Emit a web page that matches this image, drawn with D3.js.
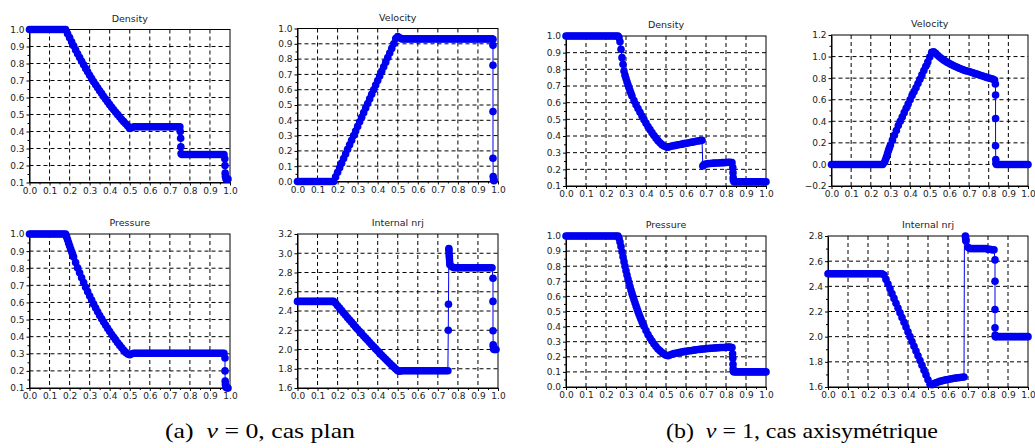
<!DOCTYPE html>
<html><head><meta charset="utf-8">
<script src="https://cdn.jsdelivr.net/npm/d3@7"></script>
<style>body{margin:0;background:#fff}svg{display:block}</style>
</head><body>
<svg id="c" width="1035" height="448"></svg>
<script>
// ---------- DATA ----------
const xGrid = [0,0.01,0.02,0.03,0.04,0.05,0.06,0.07,0.08,0.09,0.1,0.11,0.12,0.13,0.14,0.15,0.16,0.17,0.18,0.19,
0.2,0.21,0.22,0.23,0.24,0.25,0.26,0.27,0.28,0.29,0.3,0.31,0.32,0.33,0.34,0.35,0.36,0.37,0.38,0.39,
0.4,0.41,0.42,0.43,0.44,0.45,0.46,0.47,0.48,0.49,0.5,0.51,0.52,0.53,0.54,0.55,0.56,0.57,0.58,0.59,
0.6,0.61,0.62,0.63,0.64,0.65,0.66,0.67,0.68,0.69,0.7,0.71,0.72,0.73,0.74,0.75,0.76,0.77,0.78,0.79,
0.8,0.81,0.82,0.83,0.84,0.85,0.86,0.87,0.88,0.89,0.9,0.91,0.92,0.93,0.94,0.95,0.96,0.97,0.98,0.99,1];

const xTicks = [0,0.1,0.2,0.3,0.4,0.5,0.6,0.7,0.8,0.9,1.0];
const yTicksDensity = [0.1,0.2,0.3,0.4,0.5,0.6,0.7,0.8,0.9,1.0];
const yTicksVelA = [0,0.1,0.2,0.3,0.4,0.5,0.6,0.7,0.8,0.9,1.0];
const yTicksPresA = [0.1,0.2,0.3,0.4,0.5,0.6,0.7,0.8,0.9,1.0];
const yTicksEnerA = [1.6,1.8,2.0,2.2,2.4,2.6,2.8,3.0,3.2];
const yTicksVelB = [-0.2,0,0.2,0.4,0.6,0.8,1.0,1.2];
const yTicksPresB = [0,0.1,0.2,0.3,0.4,0.5,0.6,0.7,0.8,0.9,1.0];
const yTicksEnerB = [1.6,1.8,2.0,2.2,2.4,2.6,2.8];

const titles = ["Density","Velocity","Pressure","Internal nrj"];

// (a) nu = 0 : values on xGrid (0 .. 0.97), plus extra points read at the discontinuities
const densA = [1,1,1,1,1,1,1,1,1,1,1,1,1,1,1,1,1,1,1,
0.975,0.952,0.928,0.904,0.880,0.857,0.835,0.813,0.792,0.771,0.751,0.731,0.712,0.693,0.675,0.657,0.640,0.623,0.606,0.590,0.574,
0.558,0.543,0.528,0.513,0.499,0.485,0.471,0.458,0.445,0.432,0.418,0.422,
0.428,0.428,0.428,0.428,0.428,0.428,0.428,0.428,0.428,0.428,0.428,0.428,0.428,0.428,0.428,0.428,0.428,0.428,0.428,0.428,0.428,0.428,0.428,0.428,
0.265,0.265,0.265,0.265,0.265,0.265,0.265,0.265,0.265,0.265,0.265,0.265,0.265,0.265,0.265,0.265,0.265,0.265,0.265,0.265,0.265,0.265];
const densAExtra = [[0.752,0.40],[0.754,0.36],[0.755,0.31],[0.756,0.27],
[0.974,0.24],[0.975,0.20],[0.976,0.155],[0.977,0.135],[0.98,0.12],[0.985,0.12],[0.99,0.12]];

const velA = [0,0,0,0,0,0,0,0,0,0,0,0,0,0,0,0,0,0,0,
0.03,0.06,0.09,0.12,0.15,0.18,0.21,0.24,0.27,0.30,0.33,0.36,0.39,0.42,0.45,0.48,0.51,0.54,0.57,0.60,0.63,
0.66,0.69,0.72,0.75,0.78,0.81,0.84,0.87,0.90,0.935,0.948,0.94,
0.932,0.932,0.932,0.932,0.932,0.932,0.932,0.932,0.932,0.932,0.932,0.932,0.932,0.932,0.932,0.932,0.932,0.932,0.932,0.932,0.932,0.932,0.932,
0.932,0.932,0.932,0.932,0.932,0.932,0.932,0.932,0.932,0.932,0.932,0.932,0.932,0.932,0.932,0.932,0.932,0.932,0.932,0.932,0.932,0.932,0.932];
const velAExtra = [[0.975,0.93],[0.975,0.89],[0.975,0.76],[0.975,0.457],[0.975,0.152],[0.976,0.033],[0.978,0.012],[0.98,0.005]];

const presA = [1,1,1,1,1,1,1,1,1,1,1,1,1,1,1,1,1,1,1,
0.966,0.931,0.897,0.865,0.833,0.802,0.773,0.744,0.716,0.689,0.663,0.638,0.614,0.590,0.567,0.545,0.524,0.504,0.485,0.466,0.448,
0.430,0.413,0.396,0.380,0.364,0.349,0.335,0.321,0.308,0.298,0.294,0.300,
0.303,0.303,0.303,0.303,0.303,0.303,0.303,0.303,0.303,0.303,0.303,0.303,0.303,0.303,0.303,0.303,0.303,0.303,0.303,0.303,0.303,0.303,0.303,
0.303,0.303,0.303,0.303,0.303,0.303,0.303,0.303,0.303,0.303,0.303,0.303,0.303,0.303,0.303,0.303,0.303,0.303,0.303,0.303,0.303,0.303,0.303];
const presAExtra = [[0.185,0.983],[0.195,0.948],[0.205,0.914],[0.215,0.881],
[0.975,0.275],[0.975,0.2],[0.976,0.14],[0.977,0.12],[0.98,0.105],[0.985,0.1],[0.99,0.1]];

const enerA = [2.5,2.5,2.5,2.5,2.5,2.5,2.5,2.5,2.5,2.5,2.5,2.5,2.5,2.5,2.5,2.5,2.5,2.5,2.5,
2.48,2.455,2.43,2.405,2.38,2.355,2.33,2.306,2.282,2.258,2.234,2.21,2.187,2.164,2.141,2.118,2.095,2.072,2.05,2.028,2.006,
1.984,1.962,1.941,1.92,1.899,1.878,1.857,1.837,1.817,1.797,1.778,1.775,
1.78,1.78,1.78,1.78,1.78,1.78,1.78,1.78,1.78,1.78,1.78,1.78,1.78,1.78,1.78,1.78,1.78,1.78,1.78,1.78,1.78,1.78,1.78,1.78,
2.88,2.86,2.85,2.85,2.85,2.85,2.85,2.85,2.85,2.85,2.85,2.85,2.85,2.85,2.85,2.85,2.85,2.85,2.85,2.85,2.85,2.85];
const enerAExtra = [[0.752,2.2],[0.753,2.47],[0.755,3.05],[0.755,3.03],[0.756,3.0],[0.757,2.97],[0.758,2.94],[0.759,2.91],
[0.975,2.74],[0.975,2.5],[0.975,2.195],[0.976,2.05],[0.977,2.03],[0.978,2.01],[0.98,2.0],[0.985,2.0],[0.99,2.0]];

// (b) nu = 1 : values on xGrid (0 .. 1.0), plus extra points read in the steep parts
const densB = [1,1,1,1,1,1,1,1,1,1,1,1,1,1,1,1,1,1,1,1,1,1,1,1,1,1,1,
0.965,0.87,0.79,0.745,0.707,0.672,0.64,0.612,0.588,0.565,0.542,0.52,0.498,0.477,0.457,0.438,0.42,0.403,0.387,0.372,0.359,0.348,0.34,0.335,0.333,
0.337,0.34,0.342,0.344,0.347,0.349,0.351,0.354,0.356,0.358,0.361,0.363,0.365,0.368,0.37,0.372,0.374,
0.228,0.232,0.234,0.235,0.236,0.237,0.238,0.238,0.239,0.24,0.24,0.241,0.242,0.242,0.24,
0.125,0.125,0.125,0.125,0.125,0.125,0.125,0.125,0.125,0.125,0.125,0.125,0.125,0.125,0.125,0.125,0.125];
const densBExtra = [[0.265,0.99],[0.275,0.92],[0.285,0.83],[0.295,0.765],[0.305,0.725],[0.315,0.689],[0.325,0.656],
[0.684,0.22],[0.834,0.21],[0.835,0.18],[0.836,0.15],[0.837,0.135]];

const velB = [0,0,0,0,0,0,0,0,0,0,0,0,0,0,0,0,0,0,0,0,0,0,0,0,0,0,0,
0.02,0.07,0.13,0.18,0.225,0.27,0.315,0.36,0.40,0.44,0.48,0.52,0.56,0.60,0.64,0.675,0.71,0.75,0.79,0.83,0.87,0.91,0.95,0.995,1.04,
1.045,1.03,1.012,0.996,0.982,0.969,0.957,0.946,0.935,0.926,0.917,0.908,0.900,0.892,0.884,0.877,0.870,0.866,0.862,
0.855,0.849,0.843,0.837,0.831,0.825,0.819,0.813,0.807,0.801,0.796,0.791,0.783,
0,0,0,0,0,0,0,0,0,0,0,0,0,0,0,0,0];
const velBExtra = [[0.275,0.045],[0.285,0.10],[0.295,0.155],
[0.834,0.745],[0.835,0.643],[0.835,0.426],[0.835,0.173],[0.836,0.046],[0.837,0.012]];

const presB = [1,1,1,1,1,1,1,1,1,1,1,1,1,1,1,1,1,1,1,1,1,1,1,1,1,1,1,
0.96,0.895,0.83,0.77,0.715,0.665,0.62,0.578,0.538,0.50,0.465,0.432,0.402,0.374,0.348,0.325,0.304,0.285,0.268,0.252,0.24,0.228,0.218,0.21,0.207,
0.212,0.217,0.221,0.224,0.227,0.229,0.232,0.234,0.236,0.238,0.24,0.242,0.244,0.246,0.248,0.249,0.251,0.252,0.254,
0.255,0.256,0.257,0.258,0.259,0.26,0.261,0.262,0.262,0.263,0.264,0.264,0.262,
0.1,0.1,0.1,0.1,0.1,0.1,0.1,0.1,0.1,0.1,0.1,0.1,0.1,0.1,0.1,0.1,0.1];
const presBExtra = [[0.265,0.985],[0.275,0.93],[0.285,0.862],[0.295,0.80],[0.305,0.742],[0.315,0.69],[0.325,0.642],
[0.335,0.599],[0.345,0.558],[0.355,0.519],[0.365,0.482],[0.375,0.448],[0.385,0.417],
[0.833,0.22],[0.834,0.19],[0.835,0.15],[0.836,0.12],[0.837,0.105]];

const enerB = [2.5,2.5,2.5,2.5,2.5,2.5,2.5,2.5,2.5,2.5,2.5,2.5,2.5,2.5,2.5,2.5,2.5,2.5,2.5,2.5,2.5,2.5,2.5,2.5,2.5,2.5,2.5,2.5,
2.49,2.455,2.418,2.38,2.342,2.304,2.266,2.228,2.19,2.152,2.114,2.076,2.038,2.0,1.962,1.924,1.886,1.848,1.81,1.772,1.734,1.696,1.658,1.622,
1.618,1.628,1.634,1.64,1.645,1.649,1.653,1.657,1.66,1.663,1.666,1.669,1.672,1.674,1.676,1.678,1.68,
2.76,2.71,2.70,2.70,2.70,2.70,2.70,2.70,2.70,2.70,2.70,2.695,2.695,2.69,2.69,
2.0,2.0,2.0,2.0,2.0,2.0,2.0,2.0,2.0,2.0,2.0,2.0,2.0,2.0,2.0,2.0,2.0];
const enerBExtra = [[0.683,3.3],[0.685,3.0],[0.686,2.85],[0.687,2.8],[0.688,2.785],[0.689,2.77],
[0.835,2.61],[0.835,2.44],[0.835,2.216],[0.835,2.07],[0.836,2.012],[0.837,2.0]];

// captions: [label, math symbol, rest of the math, text]
const captions = [["(a)","ν"," = 0,","cas plan"],["(b)","ν"," = 1,","cas axisymétrique"]];

// ---------- LAYOUT ----------
const panels = [
  {title:titles[0], ys:densA, extra:densAExtra, yTicks:yTicksDensity, box:[29.5,230,29.5,182.5]},
  {title:titles[1], ys:velA,  extra:velAExtra,  yTicks:yTicksVelA,    box:[297.5,498,28.5,181.5]},
  {title:titles[2], ys:presA, extra:presAExtra, yTicks:yTicksPresA,   box:[29.5,230,234,388]},
  {title:titles[3], ys:enerA, extra:enerAExtra, yTicks:yTicksEnerA,   box:[297.5,498,234,388]},
  {title:titles[0], ys:densB, extra:densBExtra, yTicks:yTicksDensity, box:[566,766,36,186]},
  {title:titles[1], ys:velB,  extra:velBExtra,  yTicks:yTicksVelB,    box:[831.5,1028,35,186]},
  {title:titles[2], ys:presB, extra:presBExtra, yTicks:yTicksPresB,   box:[566,766,236,387]},
  {title:titles[3], ys:enerB, extra:enerBExtra, yTicks:yTicksEnerB,   box:[828,1028,236,387]}
];
const captionLayout = [{x:165, w:190}, {x:666, w:272}];

const svg = d3.select('#c');
const fmt = d3.format('.1f');
const BLUE = '#0000f0';
const R = 3.8;

panels.forEach((p, k) => {
  const [x0,x1,y0,y1] = p.box;
  const yd = [p.yTicks[0], p.yTicks[p.yTicks.length-1]];
  const xs = d3.scaleLinear().domain([0,1]).range([x0,x1]);
  const ys = d3.scaleLinear().domain(yd).range([y1,y0]);
  const g = svg.append('g');

  const gx = xTicks.slice(1,-1), gy = p.yTicks.slice(1,-1);
  g.selectAll('line.gx').data(gx).join('line')
    .attr('x1',d=>xs(d)).attr('x2',d=>xs(d)).attr('y1',y0).attr('y2',y1)
    .attr('stroke','#000').attr('stroke-width',1).attr('stroke-dasharray','4,3');
  g.selectAll('line.gy').data(gy).join('line')
    .attr('y1',d=>ys(d)).attr('y2',d=>ys(d)).attr('x1',x0).attr('x2',x1)
    .attr('stroke','#000').attr('stroke-width',1).attr('stroke-dasharray','4,3');

  const mx = d3.pairs(xTicks).map(([a,b])=>(a+b)/2);
  const my = d3.pairs(p.yTicks).map(([a,b])=>(a+b)/2);

  const ax = g.append('g').attr('transform',`translate(0,${y1})`)
    .call(d3.axisBottom(xs).tickValues(xTicks).tickFormat(fmt).tickSize(3).tickSizeOuter(0));
  g.append('g').attr('transform',`translate(0,${y1})`)
    .call(d3.axisBottom(xs).tickValues(mx).tickFormat('').tickSize(2).tickSizeOuter(0))
    .select('.domain').remove();
  const ay = g.append('g').attr('transform',`translate(${x0},0)`)
    .call(d3.axisLeft(ys).tickValues(p.yTicks).tickFormat(fmt).tickSize(3).tickSizeOuter(0));
  g.append('g').attr('transform',`translate(${x0},0)`)
    .call(d3.axisLeft(ys).tickValues(my).tickFormat('').tickSize(2).tickSizeOuter(0))
    .select('.domain').remove();
  [ax,ay].forEach(a=>{
    a.selectAll('text').attr('font-family','DejaVu Sans').attr('font-size',9).attr('fill','#222');
    a.select('.domain').attr('stroke','#000');
  });
  ax.selectAll('text').attr('dy','0.71em').attr('y',5);
  ay.selectAll('text').attr('x',-5);

  g.append('rect').attr('x',x0).attr('y',y0).attr('width',x1-x0).attr('height',y1-y0)
    .attr('fill','none').attr('stroke','#000').attr('stroke-width',1);

  g.append('text').attr('x',(x0+x1)/2).attr('y',y0-8).attr('text-anchor','middle')
    .attr('font-family','DejaVu Sans').attr('font-size',9.5).attr('fill','#222').text(p.title);

  const pts = p.ys.map((v,i)=>[xGrid[i],v]).concat(p.extra);
  pts.sort((a,b)=>a[0]-b[0]);
  const cid = 'clip'+k;
  svg.append('clipPath').attr('id',cid).append('rect')
    .attr('x',x0).attr('y',y0).attr('width',x1-x0).attr('height',y1-y0);
  g.append('path').datum(pts).attr('clip-path',`url(#${cid})`)
    .attr('d',d3.line().x(d=>xs(d[0])).y(d=>ys(d[1])))
    .attr('fill','none').attr('stroke',BLUE).attr('stroke-width',1);
  const vis = pts.filter(d=>d[1]>=yd[0]-1e-9 && d[1]<=yd[1]+1e-9);
  g.selectAll('circle').data(vis).join('circle')
    .attr('cx',d=>xs(d[0])).attr('cy',d=>ys(d[1])).attr('r',R).attr('fill',BLUE);
});

captions.forEach((c,i)=>{
  const L = captionLayout[i];
  const t = svg.append('text').attr('x',L.x).attr('y',438)
    .attr('font-family','Liberation Serif').attr('font-size',22).attr('fill','#000')
    .attr('textLength',L.w).attr('lengthAdjust','spacingAndGlyphs')
    .attr('xml:space','preserve');
  t.append('tspan').text(c[0] + '  ');
  t.append('tspan').attr('font-style','italic').text(c[1]);
  t.append('tspan').text(c[2] + ' ' + c[3]);
});
</script>
</body></html>
